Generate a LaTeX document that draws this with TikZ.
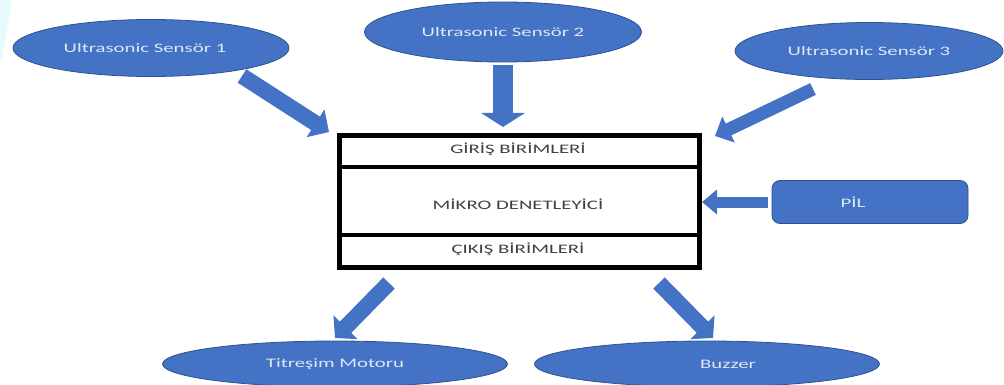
\documentclass[tikz,border=0pt]{standalone}
\usepackage{fontspec}
\setmainfont{Carlito}
\usetikzlibrary{arrows.meta,shapes.geometric}
\newcommand{\wtxt}[1]{\scalebox{1.6}[1]{#1}}
\definecolor{bfill}{RGB}{68,114,196}
\definecolor{bline}{RGB}{47,82,143}
\definecolor{ltxt}{RGB}{222,232,246}
\definecolor{dtxt}{RGB}{64,64,64}
\definecolor{cyanish}{RGB}{232,250,252}
\tikzset{
  oval/.style={ellipse, fill=bfill, draw=bline, line width=0.8pt, inner sep=0pt,
    text=ltxt, font=\fontsize{13}{15}\selectfont},
  pilbox/.style={rectangle, rounded corners=8pt, fill=bfill, draw=bline, line width=0.8pt,
    text=ltxt, font=\fontsize{13}{15}\selectfont},
  boxtext/.style={text=dtxt, font=\fontsize{13}{15}\selectfont},
  lbl/.style={text=ltxt, font=\fontsize{13}{15}\selectfont},
  blk/.style n args={3}{draw=bfill, line width=#1, -{Triangle[width=#2,length=#3]}}
}
\begin{document}
\begin{tikzpicture}[x=1pt,y=-1pt]
\useasboundingbox (0,0) rectangle (1004,385);
% faint cyan artefact at left edge
\fill[cyanish] (0,0) -- (12,0) .. controls (9,20) and (5,40) .. (2,60) -- (0,60) -- cycle;
% sensors
\node[oval, minimum width=276pt, minimum height=57pt] (s1) at (151,48) {};
\node[lbl] (t1) at (145,48) {\wtxt{Ultrasonic Sensör 1}};
\node[oval, minimum width=277pt, minimum height=60pt] (s2) at (503,32) {\wtxt{Ultrasonic Sensör 2}};
\node[oval, minimum width=268pt, minimum height=57pt] (s3) at (869,51) {\wtxt{Ultrasonic Sensör 3}};
% main box
\node[draw=black, line width=5pt, minimum width=360pt, minimum height=132pt, inner sep=0pt] (box) at (519.5,201.5) {};
\draw[line width=4pt] (box.west |- 0,167) coordinate (d1l) -- (box.east |- 0,167) coordinate (d1r);
\draw[line width=4pt] (box.west |- 0,235) coordinate (d2l) -- (box.east |- 0,235) coordinate (d2r);
\node[boxtext] (giris) at (518,149) {\wtxt{GİRİŞ BİRİMLERİ}};
\node[boxtext] (mikro) at (518,204) {\wtxt{MİKRO DENETLEYİCİ}};
\node[boxtext] (cikis) at (518,249) {\wtxt{ÇIKIŞ BİRİMLERİ}};
% PIL
\node[pilbox, minimum width=196pt, minimum height=43pt] (pil) at (870,202) {};
\node[lbl] (tp) at (853,202) {\wtxt{PİL}};
% outputs
\node[oval, minimum width=345pt, minimum height=46pt] (mot) at (335,364) {\wtxt{Titreşim Motoru}};
\node[oval, minimum width=345pt, minimum height=46pt] (buz) at (707,364) {};
\node[lbl] (tb) at (728,364) {\wtxt{Buzzer}};
% arrow coordinates
\coordinate (a1s) at (242,76);
\coordinate (a1e) at (329,132);
\coordinate (a3s) at (813,89);
\coordinate (a3e) at (715,136);
\coordinate (a4s) at (389,283);
\coordinate (a4e) at (335,338);
\coordinate (a5s) at (659,283);
\coordinate (a5e) at (713,338);
% arrows
\draw[blk={16pt}{32pt}{16pt}] (a1s) -- (a1e);
\draw[blk={20pt}{43pt}{14pt}, shorten <=3pt, shorten >=6pt] (s2.south) -- (s2.south |- box.north);
\draw[blk={13pt}{28pt}{15pt}] (a3s) -- (a3e);
\draw[blk={11pt}{24pt}{15pt}] (pil.west) ++(-4,0) -- (box.east |- pil.west);
\draw[blk={16pt}{33pt}{15pt}] (a4s) -- (a4e);
\draw[blk={16pt}{33pt}{15pt}] (a5s) -- (a5e);
\end{tikzpicture}
\end{document}
